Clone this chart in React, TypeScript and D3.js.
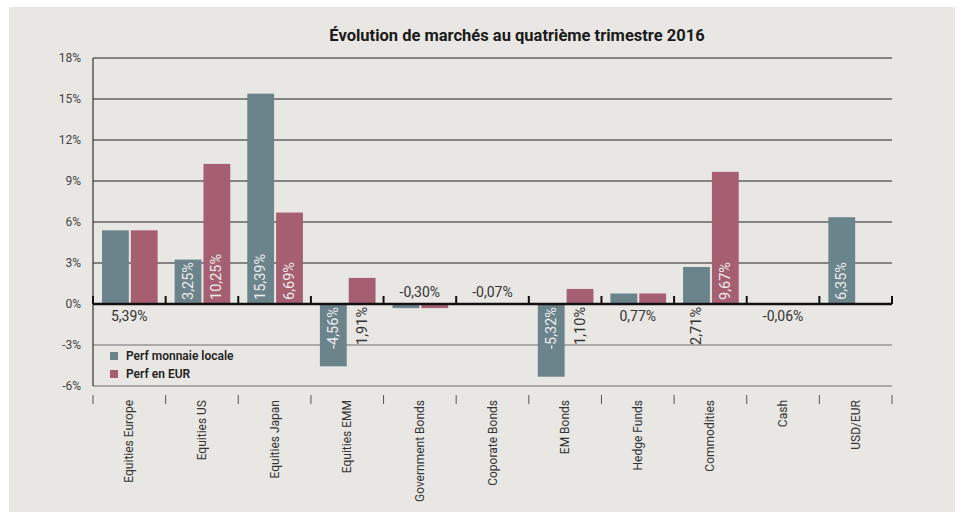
import React from "react";
import * as d3 from "d3";

const categories = [
  "Equities Europe",
  "Equities US",
  "Equities Japan",
  "Equities EMM",
  "Government Bonds",
  "Coporate Bonds",
  "EM Bonds",
  "Hedge Funds",
  "Commodities",
  "Cash",
  "USD/EUR",
];
const seriesNames = ["Perf monnaie locale", "Perf en EUR"];
const perfLocal = [5.39, 3.25, 15.39, -4.56, -0.3, -0.07, -5.32, 0.77, 2.71, -0.06, 6.35];
const perfEur = [5.39, 10.25, 6.69, 1.91, -0.3, -0.07, 1.1, 0.77, 9.67, -0.06, 0];
const yTicks = [-6, -3, 0, 3, 6, 9, 12, 15, 18];
// où placer l'étiquette unique quand les deux séries sont égales
const sharedLabelSide: Record<string, "above" | "below"> = {
  "Equities Europe": "below",
  "Government Bonds": "above",
  "Coporate Bonds": "above",
  "Hedge Funds": "below",
  Cash: "below",
};

const W = 962;
const H = 512;
const COLORS = ["#6b838b", "#a65f70"];
const FONT = "Roboto, 'DejaVu Sans', sans-serif";

const loc = d3.formatLocale({
  decimal: ",",
  thousands: " ",
  grouping: [3],
  currency: ["", "€"],
  minus: "-",
});
const fmt = (v: number) => loc.format(".2f")(v) + "%";

export default function App() {
  const m = { left: 93, right: 70, top: 58, bottom: 126 };
  const x = d3.scaleBand<string>().domain(categories).range([m.left, W - m.right]);
  const y = d3.scaleLinear().domain([-6, 18]).range([H - m.bottom, m.top]);
  const bw = x.bandwidth();
  const inner = d3
    .scaleBand<number>()
    .domain([0, 1])
    .range([9, bw - 8])
    .paddingInner(0.07);
  const y0 = y(0);
  const boundaries = categories.map((c) => x(c)!).concat([W - m.right]);

  const rows = categories.map((c, i) => ({ cat: c, vals: [perfLocal[i], perfEur[i]] }));

  return (
    <svg
      width={W}
      height={H}
      style={{ position: "absolute", left: 0, top: 0, fontFamily: FONT }}
    >
      <rect x={0} y={0} width={W} height={H} fill="#fff" />
      <rect x={9} y={7} width={946} height={H - 7} fill="#e8e7e3" />

      <text
        x={517}
        y={41}
        textAnchor="middle"
        fontSize={16.5}
        fontWeight={700}
        fill="#1a1a1a"
      >
        Évolution de marchés au quatrième trimestre 2016
      </text>

      {/* grille */}
      {yTicks.map((t) => (
        <g key={t}>
          {t !== 0 && (
            <line
              x1={m.left}
              x2={W - m.right}
              y1={y(t)}
              y2={y(t)}
              stroke={t < 0 ? "#6f6f6f" : "#222"}
              strokeWidth={1.2}
            />
          )}
          <text
            x={81}
            y={y(t)}
            dy="0.35em"
            textAnchor="end"
            fontSize={12}
            fill="#444"
          >
            {t}%
          </text>
        </g>
      ))}
      <line x1={m.left} x2={m.left} y1={y(18)} y2={y(-6)} stroke="#333" strokeWidth={1.2} />

      {/* barres */}
      {rows.map((r) =>
        r.vals.map((v, j) => (
          <rect
            key={r.cat + j}
            x={x(r.cat)! + inner(j)!}
            width={inner.bandwidth()}
            y={Math.min(y(v), y0)}
            height={Math.abs(y(v) - y0)}
            fill={COLORS[j]}
          />
        ))
      )}

      {/* axe zéro */}
      <line x1={m.left} x2={W - m.right} y1={y0} y2={y0} stroke="#111" strokeWidth={2.5} />
      {boundaries.map((bx, i) => (
        <g key={i}>
          <line x1={bx} x2={bx} y1={y0 - 8} y2={y0} stroke="#111" strokeWidth={2} />
          <line x1={bx} x2={bx} y1={395} y2={404} stroke="#555" strokeWidth={1} />
        </g>
      ))}

      {/* étiquettes de valeurs */}
      {rows.map((r) => {
        const cx = x(r.cat)! + bw / 2;
        const side = sharedLabelSide[r.cat];
        if (side && r.vals[0] === r.vals[1]) {
          return (
            <text
              key={r.cat}
              x={cx}
              y={side === "above" ? y0 - 7 : y0 + 17}
              textAnchor="middle"
              fontSize={14}
              fill="#333"
            >
              {fmt(r.vals[0])}
            </text>
          );
        }
        return r.vals.map((v, j) => {
          if (v === 0) return null;
          const bx = x(r.cat)! + inner(j)! + inner.bandwidth() / 2;
          const len = Math.abs(y(v) - y0);
          const inside = len > 40;
          let py: number;
          let anchor: "start" | "end";
          if (v > 0 && inside) {
            py = y0 - 4;
            anchor = "start";
          } else {
            py = y0 + 3;
            anchor = "end";
          }
          return (
            <text
              key={r.cat + j}
              transform={`translate(${bx},${py}) rotate(-90)`}
              textAnchor={anchor}
              dominantBaseline="central"
              fontSize={14.5}
              fill={inside ? "#ececec" : "#333"}
            >
              {fmt(v)}
            </text>
          );
        });
      })}

      {/* catégories */}
      {categories.map((c) => (
        <text
          key={c}
          transform={`translate(${x(c)! + bw / 2},${400}) rotate(-90)`}
          textAnchor="end"
          dominantBaseline="central"
          fontSize={12}
          fill="#333"
        >
          {c}
        </text>
      ))}

      {/* légende */}
      {seriesNames.map((s, i) => (
        <g key={s} transform={`translate(110,${352 + i * 18})`}>
          <rect width={8} height={8} fill={COLORS[i]} />
          <text x={16} y={4} dy="0.35em" fontSize={12} fontWeight={600} fill="#222">
            {s}
          </text>
        </g>
      ))}
    </svg>
  );
}
